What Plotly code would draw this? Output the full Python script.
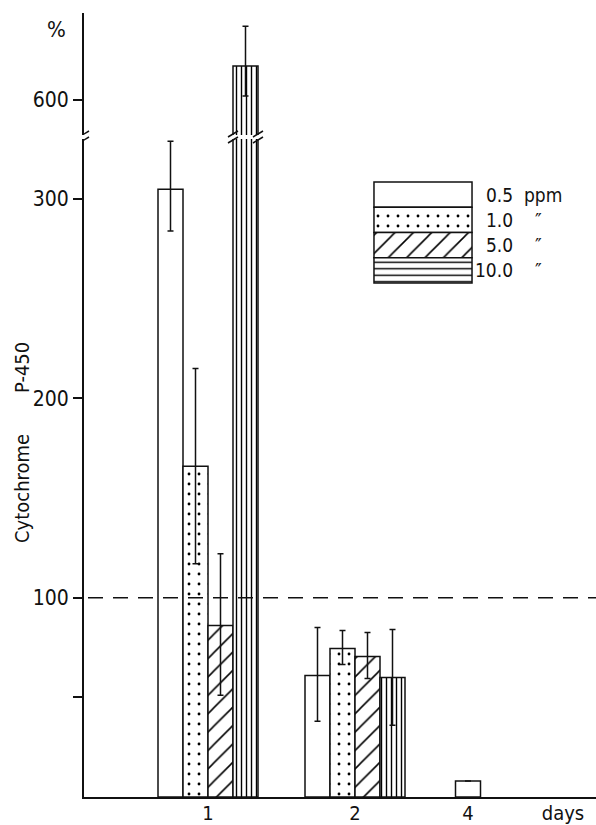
import plotly.graph_objects as go

# ---------------- data ----------------
DAYS = ["1", "2", "4"]
DAY_POS = [124, 271, 384]          # x-axis position of each day group
DAYS_LABEL_POS = 479               # position of the "days" axis label
CONC_LABELS = ["0.5", "1.0", "5.0", "10.0"]
CONC_UNITS = ["ppm", "\u2033", "\u2033", "\u2033"]

P450_05 = [305, 61, 8]
P450_10 = [166, 74.5, None]
P450_50 = [86, 70.5, None]
P450_100 = [617, 60, None]

ERR_UP_05 = [24, 24, None]
ERR_DN_05 = [21, 23, None]
ERR_UP_10 = [49, 9, None]
ERR_DN_10 = [49, 8, None]
ERR_UP_50 = [36, 12, None]
ERR_DN_50 = [35, 11, None]
ERR_UP_100 = [20, 24, None]
ERR_DN_100 = [15, 24, None]

Y_TICKS_LOW = [50, 100, 200, 300]
Y_TICKTEXT_LOW = ["", "100", "200", "300"]
Y_TICKS_HIGH = [600]
CONTROL_LEVEL = 100

# ---------------- style ----------------
INK = "#111111"
FONT = "DejaVu Sans Condensed, DejaVu Sans, sans-serif"
BAR_W = 25
W, H = 596, 825
ML, MR, MT, MB = 84, 0, 13, 28
PW, PH = W - ML - MR, H - MT - MB


def py(px):  # pixel row -> paper y
    return (H - MB - px) / PH


def pxx(px):  # pixel column -> paper x
    return (px - ML) / PW


LOW_TOP = py(139)
HIGH_BOT = py(135)
LOW_MAX = (H - MB - 139) / 1.993
HIGH_MIN = 600 - (135 - 100) / 1.993
HIGH_MAX = 600 + (100 - MT) / 1.993

PATTERNS = [
    dict(shape=""),
    dict(shape=".", fgcolor="#000", bgcolor="white", fgopacity=1, size=10, solidity=0.065),
    dict(shape="/", fgcolor="#000", bgcolor="white", fgopacity=1, size=13, solidity=0.12),
    dict(shape="|", fgcolor="#000", bgcolor="white", fgopacity=1, size=5, solidity=0.28),
]
LEGEND_PATTERNS = PATTERNS[:3] + [dict(shape="-", fgcolor="#000", bgcolor="white", fgopacity=1,
                                       size=6.5, solidity=0.22)]

series = [
    (P450_05, ERR_UP_05, ERR_DN_05),
    (P450_10, ERR_UP_10, ERR_DN_10),
    (P450_50, ERR_UP_50, ERR_DN_50),
    (P450_100, ERR_UP_100, ERR_DN_100),
]

fig = go.Figure()

n_present = [sum(1 for s in series if s[0][d] is not None) for d in range(len(DAYS))]
for xa, ya in (("x", "y"), ("x2", "y2")):
    for i, (vals, up, dn) in enumerate(series):
        offsets = []
        for d in range(len(DAYS)):
            if n_present[d] == 1:
                offsets.append(-BAR_W / 2)
            else:
                offsets.append(-2 * BAR_W + i * BAR_W)
        fig.add_trace(go.Bar(
            x=DAY_POS, y=vals, width=BAR_W, offset=offsets,
            marker=dict(color="white", line=dict(color=INK, width=1.5), pattern=PATTERNS[i]),
            error_y=dict(type="data", array=up, arrayminus=dn, symmetric=False,
                         color=INK, thickness=1.5, width=3),
            xaxis=xa, yaxis=ya, showlegend=False, hoverinfo="skip",
        ))

# legend drawn as a small stacked box
for i in range(4):
    fig.add_trace(go.Bar(
        x=[0], y=[1], base=[3 - i], width=1, offset=-0.5,
        marker=dict(color="white", line=dict(color=INK, width=1.5), pattern=LEGEND_PATTERNS[i]),
        xaxis="x3", yaxis="y3", showlegend=False, hoverinfo="skip",
    ))

axis_common = dict(showgrid=False, zeroline=False, showline=True, linecolor=INK, linewidth=2,
                   automargin=False, tickfont=dict(family=FONT, size=21, color=INK))

fig.update_layout(
    width=W, height=H, margin=dict(l=ML, r=MR, t=MT, b=MB, autoexpand=False),
    paper_bgcolor="white", plot_bgcolor="white", barmode="overlay",
    font=dict(family=FONT, color=INK),
    xaxis=dict(range=[0, PW], tickvals=DAY_POS + [DAYS_LABEL_POS], ticktext=DAYS + ["days"],
               ticks="", anchor="y", ticklabelstandoff=-3,
               **{**axis_common, "tickfont": dict(family=FONT, size=20, color=INK)}),
    yaxis=dict(domain=[0, LOW_TOP], range=[0, LOW_MAX], tickvals=Y_TICKS_LOW, ticktext=Y_TICKTEXT_LOW,
               ticks="outside", ticklen=9, tickwidth=1.5, tickcolor=INK, anchor="x", **axis_common),
    xaxis2=dict(range=[0, PW], matches="x", anchor="y2", visible=False, automargin=False),
    yaxis2=dict(domain=[HIGH_BOT, 1], range=[HIGH_MIN, HIGH_MAX], tickvals=Y_TICKS_HIGH,
                ticks="outside", ticklen=9, tickwidth=1.5, tickcolor=INK, anchor="x2", **axis_common),
    xaxis3=dict(domain=[pxx(373), pxx(473)], range=[-0.51, 0.51], anchor="y3", visible=False,
                automargin=False),
    yaxis3=dict(domain=[py(284), py(181)], range=[-0.04, 4.04], anchor="x3", visible=False,
                automargin=False),
)

# control level dashed line
fig.add_shape(type="line", xref="paper", yref="y", x0=pxx(88), x1=1, y0=CONTROL_LEVEL, y1=CONTROL_LEVEL,
              line=dict(color=INK, width=1.5, dash="15px,10px"))


# axis-break marks
def break_marks(xref, cx):
    for ypx in (134, 140):
        fig.add_shape(type="line", xref=xref, yref="paper",
                      x0=cx - 5, x1=cx + 5, y0=py(ypx + 3), y1=py(ypx - 3),
                      line=dict(color=INK, width=1.5))


break_marks("x", 0)
big_left = DAY_POS[0] - 2 * BAR_W + 3 * BAR_W
break_marks("x", big_left)
break_marks("x", big_left + BAR_W)

# legend labels
for i in range(4):
    fig.add_annotation(x=pxx(515), y=3.5 - i, xref="paper", yref="y3", text=CONC_LABELS[i],
                       showarrow=False, xanchor="right", yanchor="middle",
                       font=dict(family=FONT, size=19, color=INK))
    if i == 0:
        fig.add_annotation(x=pxx(522), y=3.5 - i, xref="paper", yref="y3", text=CONC_UNITS[i],
                           showarrow=False, xanchor="left", yanchor="middle",
                           font=dict(family=FONT, size=19, color=INK))
    else:
        fig.add_annotation(x=pxx(538), y=3.5 - i, xref="paper", yref="y3", text=CONC_UNITS[i],
                           showarrow=False, xanchor="center", yanchor="middle",
                           font=dict(family=FONT, size=20, color=INK))

# axis titles
fig.add_annotation(x=pxx(56), y=py(29), xref="paper", yref="paper", text="%", showarrow=False,
                   xanchor="center", yanchor="middle", font=dict(family=FONT, size=22, color=INK))
fig.add_annotation(x=pxx(22), y=py(489), xref="paper", yref="paper", text="Cytochrome", textangle=-90,
                   xanchor="center", yanchor="middle", showarrow=False,
                   font=dict(family=FONT, size=20, color=INK))
fig.add_annotation(x=pxx(22), y=py(368), xref="paper", yref="paper", text="P-450", textangle=-90,
                   xanchor="center", yanchor="middle", showarrow=False,
                   font=dict(family=FONT, size=20, color=INK))

fig.write_html("out.html", config={"displayModeBar": False},
               post_script="document.body.style.margin='0';document.body.style.padding='0';")
